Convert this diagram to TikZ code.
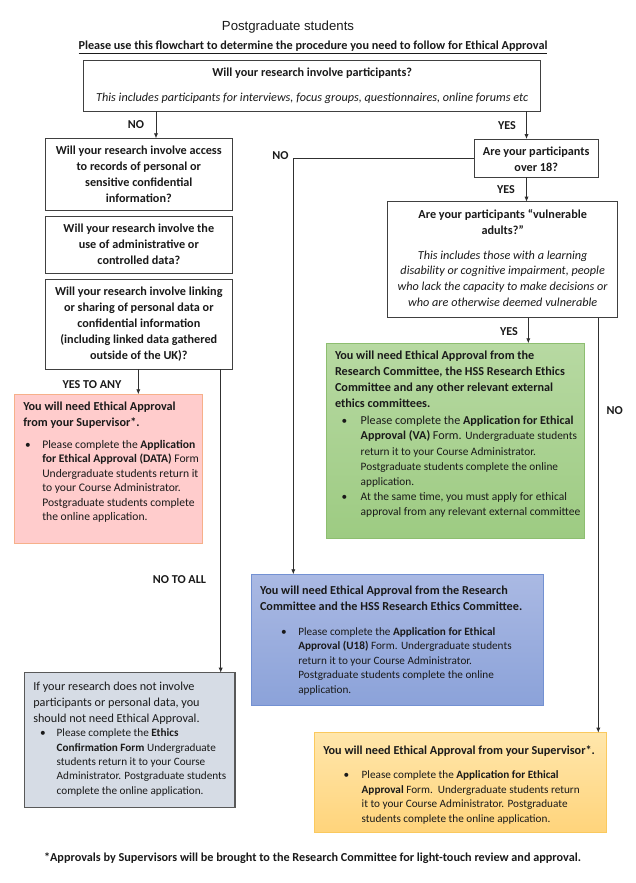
\documentclass[tikz,border=0pt]{standalone}
\usepackage{fontspec}
\setmainfont{Carlito}
\newfontfamily\arialf{Liberation Sans}
\usetikzlibrary{arrows.meta}
\definecolor{txtc}{HTML}{1A1A1A}
\definecolor{wbord}{HTML}{404040}
\definecolor{linec}{HTML}{303030}
\definecolor{pinkf}{HTML}{FFCCCC}
\definecolor{pinkb}{HTML}{F6B08A}
\definecolor{greent}{HTML}{B7D9A2}
\definecolor{greenb}{HTML}{9DCB82}
\definecolor{greend}{HTML}{8DBE70}
\definecolor{bluet}{HTML}{AAB9E3}
\definecolor{blueb}{HTML}{8BA2D9}
\definecolor{blued}{HTML}{7391D2}
\definecolor{greyf}{HTML}{D6DCE5}
\definecolor{greyb}{HTML}{595959}
\definecolor{oranget}{HTML}{FFE6AB}
\definecolor{orangeb}{HTML}{FFD47B}
\definecolor{oranged}{HTML}{FAC95E}
\newcommand\fhead{\fontsize{12.2}{16}\selectfont}
\newcommand\fbul{\fontsize{11.3}{14.6}\selectfont}
\newcommand\flab{\fontsize{12.1}{14}\selectfont\bfseries}
\begin{document}
\begin{tikzpicture}[x=1pt,y=-1pt,
  box/.style={inner sep=0pt, outer sep=0pt, anchor=north west},
  wbox/.style={box, draw=wbord, line width=0.9pt, fill=white},
  txt/.style={inner sep=0pt, outer sep=0pt, text=txtc},
  lab/.style={txt, anchor=base, font=\flab},
  conn/.style={draw=linec, line width=0.8pt},
  arr/.style={conn, -{Latex[length=5pt,width=4.2pt]}},
  bul/.style={txt, anchor=base west, font=\fbul}
]
\useasboundingbox[fill=white] (0,0) rectangle (636,883);

% ---- titles
\node[txt, anchor=base] (title) at (288,31) {\arialf\fontsize{13.2}{16}\selectfont Postgraduate students};
\node[txt, anchor=base] (sub) at (313,50) {\fhead\bfseries\underline{Please use this flowchart to determine the procedure you need to follow for Ethical Approval}};

% ---- boxes
\node[wbox, minimum width=457.2pt, minimum height=50.7pt] (q0) at (83.6,60.3) {};
\node[wbox, minimum width=187pt, minimum height=71.7pt] (b1) at (45.3,138.3) {};
\node[wbox, minimum width=187pt, minimum height=56.6pt] (b2) at (45.3,216.7) {};
\node[wbox, minimum width=187pt, minimum height=89.7pt] (b3) at (45.3,279.3) {};
\node[wbox, minimum width=124.3pt, minimum height=38.3pt] (o18) at (474,139) {};
\node[wbox, minimum width=230pt, minimum height=116pt] (vu) at (387.7,201.7) {};
\node[box, draw=greend, line width=0.8pt, top color=greent, bottom color=greenb, minimum width=257.3pt, minimum height=195pt] (gr) at (326.7,343.3) {};
\node[box, draw=pinkb, line width=0.9pt, fill=pinkf, minimum width=188pt, minimum height=149pt] (pk) at (14.3,394.3) {};
\node[box, draw=blued, line width=0.8pt, top color=bluet, bottom color=blueb, minimum width=292.3pt, minimum height=131.4pt] (bl) at (251,574.3) {};
\node[box, draw=greyb, line width=1.2pt, fill=greyf, minimum width=210.7pt, minimum height=134.6pt] (gy) at (24.3,672.7) {};
\node[box, draw=oranged, line width=0.9pt, top color=oranget, bottom color=orangeb, minimum width=292pt, minimum height=100pt] (orb) at (314,732.7) {};

% ---- box texts
\node[txt, anchor=base] (t0a) at (312.2,76.7) {\fhead\bfseries Will your research involve participants?};
\node[txt, anchor=base] (t0b) at (312.2,101.3) {\fhead\itshape This includes participants for interviews, focus groups, questionnaires, online forums etc};

\node[txt, anchor=base] (t1) at (138.8,154) {\parbox[t]{300pt}{\centering\fhead\bfseries Will your research involve access\\ to records of personal or\\ sensitive confidential\\ information?}};
\node[txt, anchor=base] (t2) at (138.8,232.7) {\parbox[t]{300pt}{\centering\fhead\bfseries Will your research involve the\\ use of administrative or\\ controlled data?}};
\node[txt, anchor=base] (t3) at (138.8,295.7) {\parbox[t]{300pt}{\centering\fhead\bfseries Will your research involve linking\\ or sharing of personal data or\\ confidential information\\ (including linked data gathered\\ outside of the UK)?}};

\node[txt, anchor=base] (t18) at (536.2,155.7) {\parbox[t]{200pt}{\centering\fhead\bfseries Are your participants\\ over 18?}};

\node[txt, anchor=base] (tva) at (502.7,218.3) {\parbox[t]{300pt}{\centering\fhead\bfseries Are your participants “vulnerable\\ adults?”}};
\node[txt, anchor=base] (tvb) at (502.7,259) {\parbox[t]{300pt}{\centering\fontsize{12.2}{15.7}\selectfont\itshape This includes those with a learning\\ disability or cognitive impairment, people\\ who lack the capacity to make decisions or\\ who are otherwise deemed vulnerable}};

% green
\node[txt, anchor=base west] (tga) at (335,359.3) {\parbox[t]{300pt}{\raggedright\fhead\bfseries You will need Ethical Approval from the\\ Research Committee, the HSS Research Ethics\\ Committee and any other relevant external\\ ethics committees.}};
\node[bul] (gb1) at (341.5,424.7) {•};
\node[txt, anchor=base west] (tgb) at (360.7,424.7) {\parbox[t]{300pt}{\raggedright\fontsize{12.1}{15.25}\selectfont Please complete the \textbf{Application for Ethical}\\ \textbf{Approval (VA)} Form. {\fbul Undergraduate students}\\ {\fbul return it to your Course Administrator.}\\ {\fbul Postgraduate students complete the online}\\ {\fbul application.}}};
\node[bul] (gb2) at (341.5,500) {•};
\node[txt, anchor=base west] (tgc) at (360.7,500) {\parbox[t]{300pt}{\raggedright\fontsize{11.5}{15.7}\selectfont At the same time, you must apply for ethical\\ approval from any relevant external committee}};

% pink
\node[txt, anchor=base west] (tpa) at (23.3,410.7) {\parbox[t]{300pt}{\raggedright\fhead\bfseries You will need Ethical Approval\\ from your Supervisor*.}};
\node[bul] (pb1) at (25,448) {•};
\node[txt, anchor=base west] (tpb) at (42.3,448) {\parbox[t]{300pt}{\raggedright\fontsize{11.6}{14.55}\selectfont Please complete the \textbf{Application}\\ \textbf{for Ethical Approval (DATA)} Form\\ Undergraduate students return it\\ to your Course Administrator.\\ Postgraduate students complete\\ the online application.}};

% blue
\node[txt, anchor=base west] (tba) at (260,594) {\parbox[t]{300pt}{\raggedright\fhead\bfseries You will need Ethical Approval from the Research\\ Committee and the HSS Research Ethics Committee.}};
\node[bul] (bb1) at (281,635) {•};
\node[txt, anchor=base west] (tbb) at (298.3,635) {\parbox[t]{300pt}{\raggedright\fontsize{11.2}{14.6}\selectfont Please complete the \textbf{Application for Ethical}\\ \textbf{Approval (U18)} Form. Undergraduate students\\ return it to your Course Administrator.\\ Postgraduate students complete the online\\ application.}};

% grey
\node[txt, anchor=base west] (tya) at (33.3,690.7) {\parbox[t]{300pt}{\raggedright\fontsize{12.2}{15.8}\selectfont If your research does not involve\\ participants or personal data, you\\ should not need Ethical Approval.}};
\node[bul] (yb1) at (40,736.7) {•};
\node[txt, anchor=base west] (tyb) at (56.7,736.7) {\parbox[t]{300pt}{\raggedright\fontsize{11.2}{14.35}\selectfont Please complete the \textbf{Ethics}\\ \textbf{Confirmation Form} Undergraduate\\ students return it to your Course\\ Administrator. Postgraduate students\\ complete the online application.}};

% orange
\node[txt, anchor=base west] (toa) at (323.3,754) {\fhead\bfseries You will need Ethical Approval from your Supervisor*.};
\node[bul] (ob1) at (343.5,778.3) {•};
\node[txt, anchor=base west] (tob) at (361.7,778.3) {\parbox[t]{300pt}{\raggedright\fontsize{11.2}{14.7}\selectfont Please complete the \textbf{Application for Ethical}\\ \textbf{Approval} Form.\ \ Undergraduate students return\\ it to your Course Administrator. Postgraduate\\ students complete the online application.}};

% footnote
\node[txt, anchor=base] (foot) at (312.5,861.3) {\fhead\bfseries *Approvals by Supervisors will be brought to the Research Committee for light-touch review and approval.};

% ---- connectors
\coordinate (xa) at (156,0);
\coordinate (xb) at (526.5,0);
\coordinate (xc) at (293.3,0);
\coordinate (xd) at (528.3,0);
\coordinate (xe) at (598.3,0);
\coordinate (xf) at (138.3,0);
\coordinate (xg) at (220.7,0);

\draw[arr] (q0.south -| xa) -- (b1.north -| xa);
\draw[arr] (q0.south -| xb) -- (o18.north -| xb);
\draw[arr] (o18.west) -- (o18.west -| xc) -- (bl.north -| xc);
\draw[arr] (o18.south -| xb) -- (vu.north -| xb);
\draw[arr] (vu.south -| xd) -- (gr.north -| xd);
\draw[arr] (vu.south -| xe) -- (orb.north -| xe);
\draw[arr] (b3.south -| xf) -- (pk.north -| xf);
\draw[arr] (b3.south -| xg) -- (gy.north -| xg);

% ---- labels
\node[lab] (l1) at (136,128) {NO};
\node[lab] (l2) at (507,129) {YES};
\node[lab] (l3) at (280.5,159) {NO};
\node[lab] (l4) at (506,193) {YES};
\node[lab] (l5) at (509,335) {YES};
\node[lab] (l6) at (614.7,414) {NO};
\node[lab] (l7) at (92,388) {YES TO ANY};
\node[lab] (l8) at (179.5,583) {NO TO ALL};
\end{tikzpicture}
\end{document}
